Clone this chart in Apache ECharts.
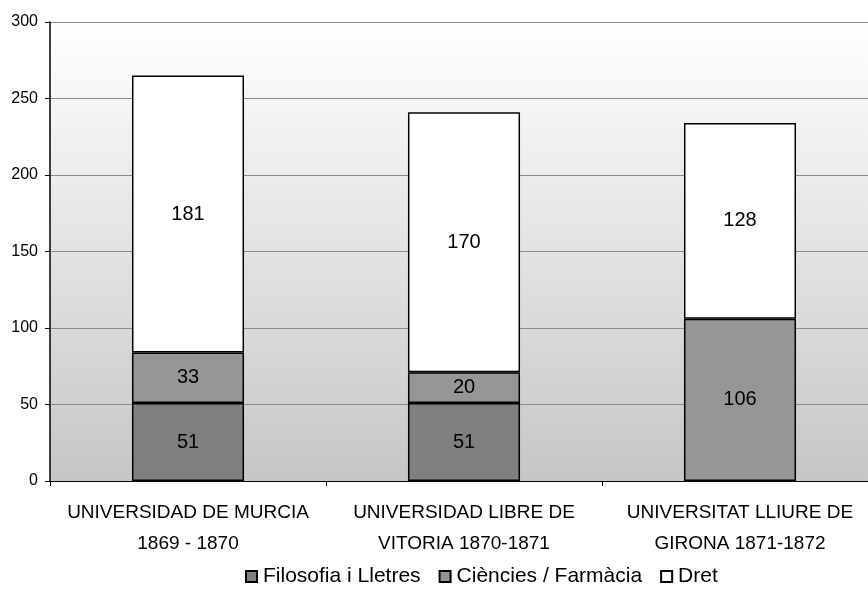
<!DOCTYPE html>
<html>
<head>
<meta charset="utf-8">
<script src="https://cdn.jsdelivr.net/npm/echarts@6/dist/echarts.min.js"></script>
<style>html,body{margin:0;padding:0;background:#fff;overflow:hidden;width:868px;height:611px}#c{width:878px;height:611px}</style>
</head>
<body>
<div id="c"></div>
<script>
var categories = ["UNIVERSIDAD DE MURCIA\n1869 - 1870", "UNIVERSIDAD LIBRE DE\nVITORIA 1870-1871", "UNIVERSITAT LLIURE DE\nGIRONA 1871-1872"];
var seriesNames = ["Filosofia i Lletres", "Ciències / Farmàcia", "Dret"];
var filosofia = [51, 51, null];
var ciencies = [33, 20, 106];
var dret = [181, 170, 128];
var yTicks = [0, 50, 100, 150, 200, 250, 300];

var font = "Arial, 'Liberation Sans', sans-serif";
var colors = ["#808080", "#969696", "#ffffff"];
var datas = [filosofia, ciencies, dret];

var chart = echarts.init(document.getElementById('c'));
chart.setOption({
  animation: false,
  textStyle: { fontFamily: font },
  grid: {
    left: 50, right: 0, top: 22, bottom: 130,
    show: true, borderWidth: 0,
    backgroundColor: { type: 'linear', x: 0, y: 0, x2: 0, y2: 1,
      colorStops: [{ offset: 0, color: '#ffffff' }, { offset: 1, color: '#c6c6c6' }] }
  },
  legend: {
    data: seriesNames,
    top: 561, left: 240,
    itemWidth: 11, itemHeight: 11, itemGap: 18,
    icon: 'rect',
    textStyle: { fontSize: 21, color: '#000', fontFamily: font, padding: [0, 0, 0, 1] }
  },
  xAxis: {
    type: 'category',
    data: categories,
    axisLine: { lineStyle: { color: '#000', width: 1 } },
    axisTick: { show: true, length: 5, lineStyle: { color: '#000' } },
    axisLabel: { color: '#000', fontSize: 19, lineHeight: 31, margin: 16, interval: 0, fontFamily: font }
  },
  yAxis: {
    type: 'value', min: 0, max: 300, interval: 50,
    axisLine: { show: true, lineStyle: { color: '#000', width: 1.5 } },
    axisTick: { show: true, length: 5, lineStyle: { color: '#000' } },
    axisLabel: { color: '#000', fontSize: 16, margin: 12, fontFamily: font },
    splitLine: { lineStyle: { color: '#8c8c8c', width: 1 } }
  },
  series: datas.map(function (d, i) {
    return {
      name: seriesNames[i], type: 'bar', stack: 'total', data: d,
      barWidth: '40.6%',
      itemStyle: { color: colors[i], borderColor: '#000', borderWidth: 1.5 },
      label: { show: true, position: 'inside', color: '#000', fontSize: 20, fontFamily: font,
        formatter: function (p) { return p.value == null ? '' : p.value; } }
    };
  })
});
</script>
</body>
</html>
